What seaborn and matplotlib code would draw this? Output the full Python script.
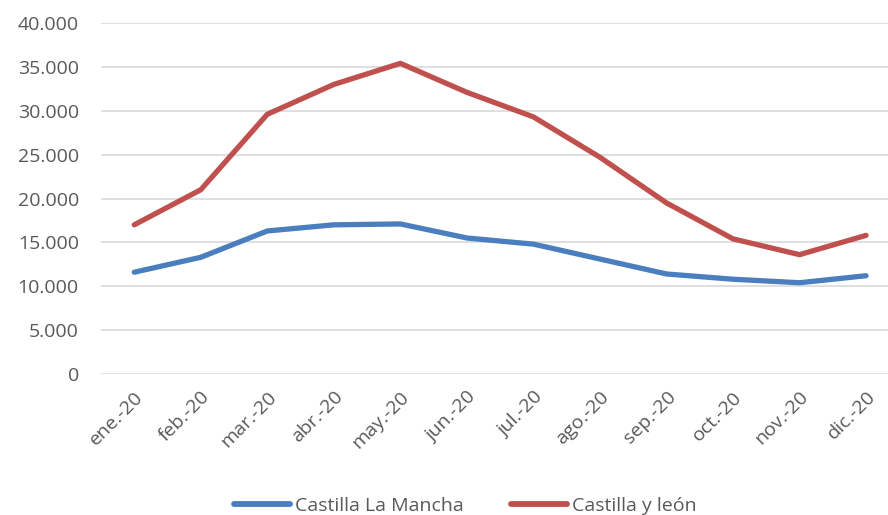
import pandas as pd
import matplotlib.pyplot as plt
import seaborn as sns
from matplotlib.ticker import FuncFormatter

# datos
meses = ['ene.-20', 'feb.-20', 'mar.-20', 'abr.-20', 'may.-20', 'jun.-20',
         'jul.-20', 'ago.-20', 'sep.-20', 'oct.-20', 'nov.-20', 'dic.-20']
castilla_la_mancha = [11600, 13300, 16300, 17000, 17100, 15500,
                      14800, 13100, 11400, 10800, 10400, 11200]
castilla_y_leon = [17000, 21000, 29600, 33000, 35400, 32100,
                   29300, 24700, 19500, 15400, 13600, 15800]

df = pd.DataFrame({
    'mes': meses * 2,
    'valor': castilla_la_mancha + castilla_y_leon,
    'serie': ['Castilla La Mancha'] * 12 + ['Castilla y león'] * 12,
})

sns.set_theme(style="white")
plt.rcParams['font.family'] = ['Open Sans', 'DejaVu Sans']
gris = '#595959'

fig = plt.figure(figsize=(8.88, 5.15), dpi=100)
ax = fig.add_axes([101 / 888, 1 - 374 / 515, 787 / 888, 351 / 515])

sns.lineplot(data=df, x='mes', y='valor', hue='serie', sort=False,
             palette=['#4A7EBF', '#C0504D'], linewidth=3.8, ax=ax,
             solid_capstyle='round')

ax.set_ylim(0, 40000)
ax.set_xlim(-0.5, 11.33)
ax.set_yticks(range(0, 40001, 5000))
ax.yaxis.set_major_formatter(FuncFormatter(lambda v, p: f"{int(v):,}".replace(',', '.')))
ax.grid(axis='y', color='#D9D9D9', linewidth=1.2)
ax.set_axisbelow(True)
for s in ax.spines.values():
    s.set_visible(False)
ax.set_xlabel('')
ax.set_ylabel('')
ax.tick_params(axis='both', length=0, labelsize=14, labelcolor=gris)
ax.tick_params(axis='y', pad=16)
ax.tick_params(axis='x', pad=10)
plt.setp(ax.get_xticklabels(), rotation=45, ha='right', rotation_mode='anchor')

leg = ax.legend(loc='center', bbox_to_anchor=(0.463, -0.375), ncol=2,
                frameon=False, fontsize=14, handlelength=2.9, handletextpad=0.25,
                columnspacing=2.4)
for line in leg.get_lines():
    line.set_linewidth(4.2)
for t in leg.get_texts():
    t.set_color(gris)

plt.savefig("out.png", dpi=100)
